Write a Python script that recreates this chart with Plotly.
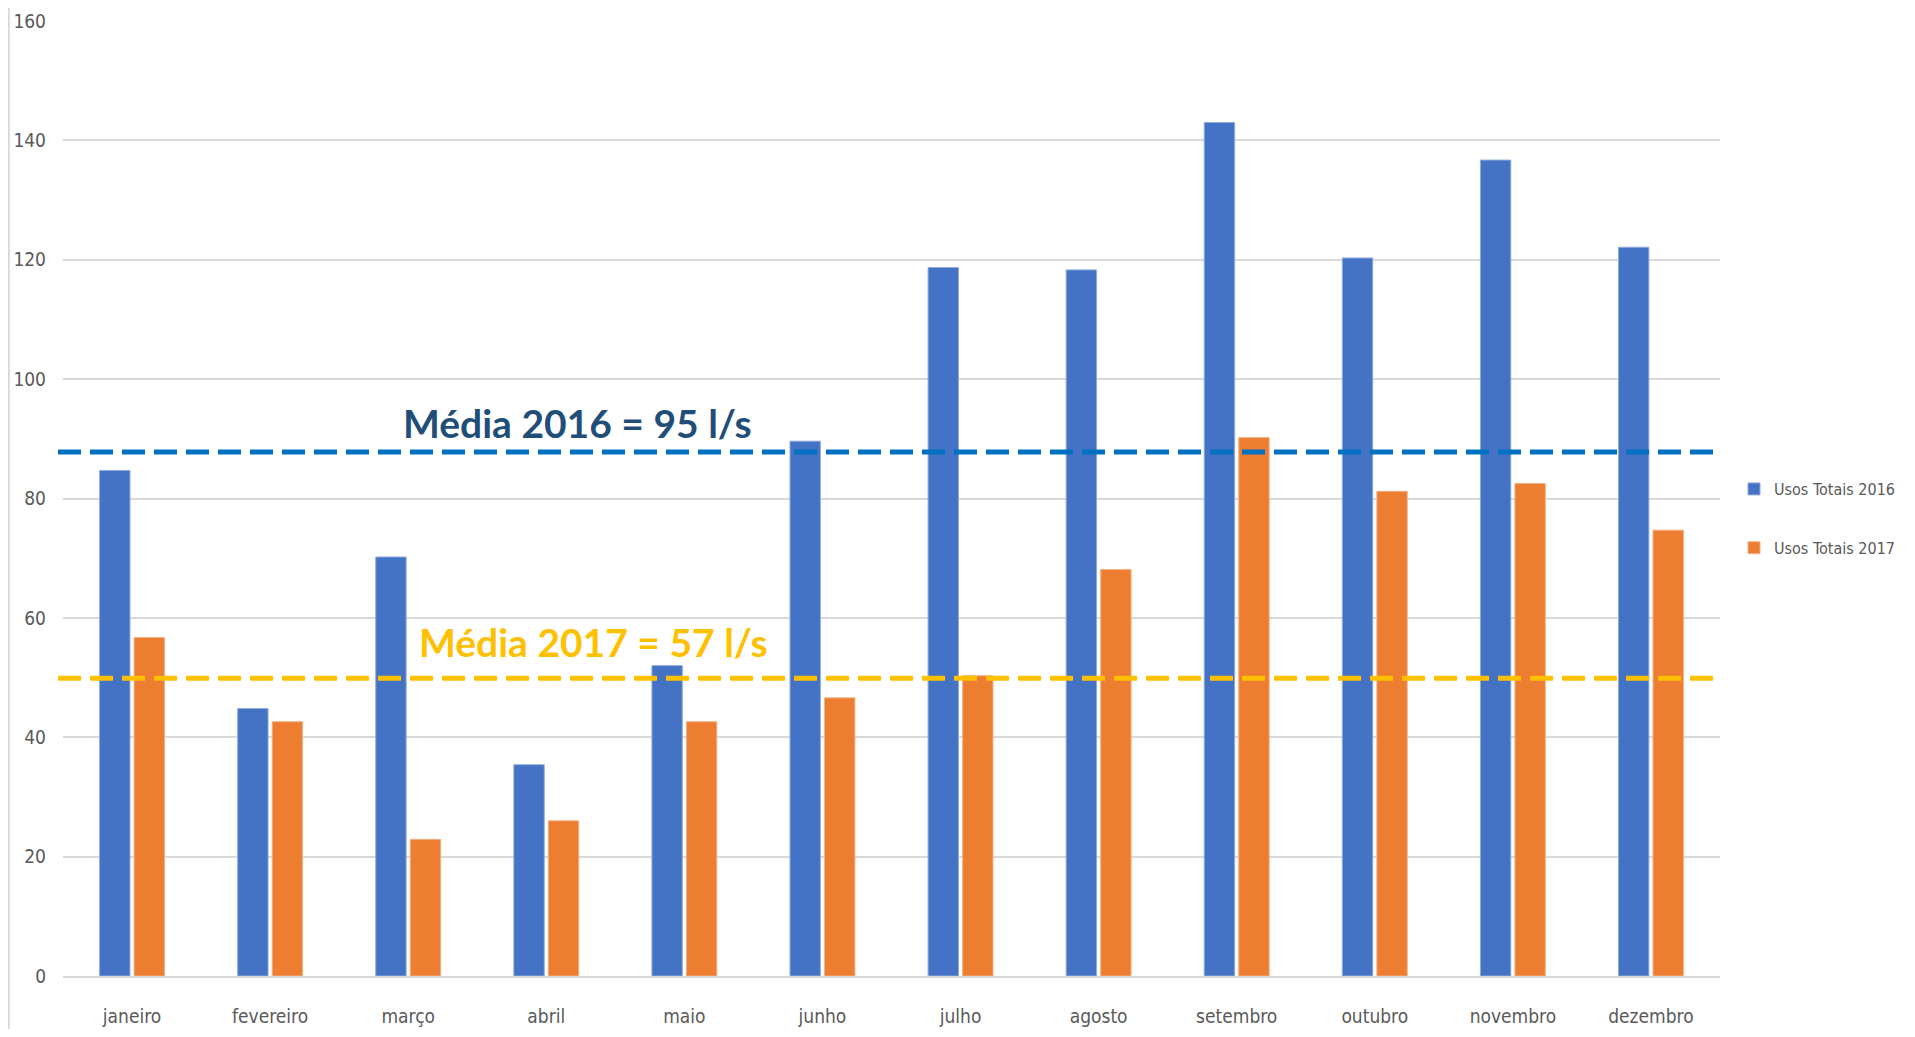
import plotly.graph_objects as go

meses = ["janeiro", "fevereiro", "março", "abril", "maio", "junho",
         "julho", "agosto", "setembro", "outubro", "novembro", "dezembro"]
usos_2016 = [84.7, 44.8, 70.2, 35.4, 52.0, 89.6, 118.7, 118.3, 143.0, 120.3, 136.7, 122.1]
usos_2017 = [56.7, 42.6, 22.9, 26.0, 42.6, 46.6, 50.3, 68.1, 90.2, 81.2, 82.5, 74.7]

# reference lines as drawn in the original (labels say 95 and 57)
linha_2016 = 87.8
linha_2017 = 49.9
texto_2016 = "Média 2016 = 95 l/s"
texto_2017 = "Média 2017 = 57 l/s"

NARROW = "Liberation Sans Narrow, DejaVu Sans Condensed"
TICK_FONT = dict(family=NARROW, size=19, color="#595959")

fig = go.Figure()
fig.add_trace(go.Bar(x=meses, y=usos_2016, name="Usos Totais 2016",
                     marker=dict(color="#4472C4", line=dict(color="#8FAADC", width=1)),
                     legendgroup="a"))
fig.add_trace(go.Bar(x=meses, y=usos_2017, name="Usos Totais 2017",
                     marker=dict(color="#ED7D31", line=dict(color="#F4B183", width=1)),
                     legendgroup="b"))

fig.add_shape(type="line", xref="paper", x0=-0.003, x1=1.0, yref="y",
              y0=linha_2016, y1=linha_2016,
              line=dict(color="#0070C0", width=5, dash="23px,9px"))
fig.add_shape(type="line", xref="paper", x0=-0.003, x1=1.0, yref="y",
              y0=linha_2017, y1=linha_2017,
              line=dict(color="#FFC000", width=5, dash="23px,9px"))

# left border of the original image
fig.add_shape(type="line", xref="paper", yref="paper", x0=-0.033, x1=-0.033,
              y0=-0.07, y1=1.03, line=dict(color="#D9D9D9", width=3))

fig.add_annotation(x=0.3106, xref="paper", xanchor="center", y=92.7, yref="y",
                   yanchor="middle", text=texto_2016, showarrow=False,
                   font=dict(family="Lato", size=39, color="#1F4E79", weight="bold"))
fig.add_annotation(x=0.320, xref="paper", xanchor="center", y=55.9, yref="y",
                   yanchor="middle", text=texto_2017, showarrow=False,
                   font=dict(family="Lato", size=39, color="#FFC000", weight="bold"))

# the page keeps an 8px body margin, so the figure is a bit smaller than the window
fig.update_layout(
    width=1899, height=1021,
    template="plotly_white",
    plot_bgcolor="white", paper_bgcolor="white",
    margin=dict(l=55, r=187, t=13, b=53, autoexpand=False),
    barmode="group", bargap=0.5, bargroupgap=0.12,
    legend=dict(xref="container", yref="container", x=0.9089, y=0.5455,
                xanchor="left", yanchor="top",
                font=dict(family=NARROW, size=16, color="#595959"),
                tracegroupgap=35, traceorder="grouped", itemwidth=30,
                bgcolor="rgba(0,0,0,0)"),
    xaxis=dict(tickfont=TICK_FONT, showline=True, linecolor="#D9D9D9", linewidth=2,
               ticks="", showgrid=False, automargin=False, ticklabelstandoff=22),
    yaxis=dict(range=[0, 160], dtick=20, tickfont=TICK_FONT, gridcolor="#D9D9D9",
               gridwidth=2, zeroline=False, showline=False, ticks="",
               ticklabelstandoff=16, automargin=False),
)

fig.write_html("out.html")
